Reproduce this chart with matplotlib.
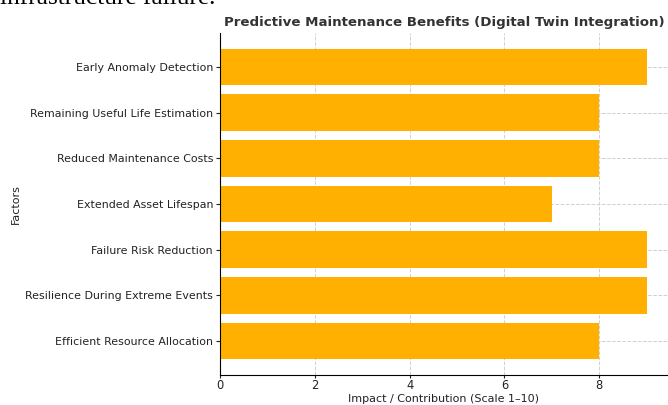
import matplotlib
matplotlib.use("Agg")
import matplotlib.pyplot as plt

# Factors and their scores, top to bottom as shown
factors = [
    "Early Anomaly Detection",
    "Remaining Useful Life Estimation",
    "Reduced Maintenance Costs",
    "Extended Asset Lifespan",
    "Failure Risk Reduction",
    "Resilience During Extreme Events",
    "Efficient Resource Allocation",
]
scores = [9, 8, 8, 7, 9, 9, 8]
xticks = [0, 2, 4, 6, 8]

fig = plt.figure(figsize=(6.68, 4.05), dpi=100)
ax = fig.add_axes([220 / 668, 1 - 375 / 405, 448 / 668, (375 - 33) / 405])

# barh plots bottom-up, so reverse the lists
ax.barh(factors[::-1], scores[::-1], height=0.8, color="#FFB000", zorder=2)
ax.set_xticks(xticks)
ax.grid(True, linestyle="--", color="#d0d0d0", linewidth=0.7, zorder=0)
ax.spines["top"].set_visible(False)
ax.spines["right"].set_visible(False)
ax.tick_params(axis="y", labelsize=7.9, length=3, pad=2, colors="#222222")
ax.tick_params(axis="x", labelsize=8.3, length=2, pad=1, colors="#222222")
ax.set_xlabel("Impact / Contribution (Scale 1–10)", fontsize=8, color="#222222", labelpad=1)
ax.set_ylabel("Factors", fontsize=8, color="#222222", labelpad=3)
ax.set_title("Predictive Maintenance Benefits (Digital Twin Integration)",
             fontsize=9.6, fontweight="bold", color="#333333", pad=5)

# leftover caption text cut off at the top of the screenshot
fig.text(0.0, 1 - 4 / 405, "infrastructure failure.", fontsize=18.3,
         family="Liberation Serif", va="baseline", ha="left")

fig.savefig("out.png", dpi=100)
